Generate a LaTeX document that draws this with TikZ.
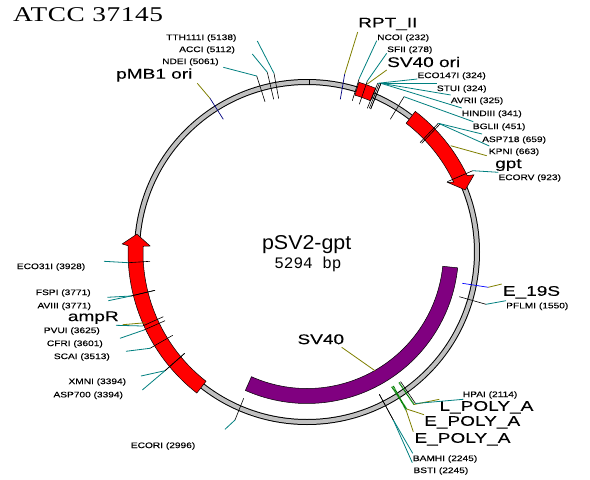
\documentclass[tikz,border=0pt]{standalone}
\usepackage{fontspec}
\setmainfont{Liberation Sans}
\newfontfamily\smf[FakeStretch=1.27,FakeBold=0.15]{Liberation Sans}
\newfontfamily\bgf[FakeStretch=1.36,FakeBold=0.2]{Liberation Sans}
\newfontfamily\ttlf[FakeStretch=1.07]{Liberation Sans}
\newfontfamily\atcc[FakeStretch=1.3,LetterSpace=3]{Liberation Serif}
\newfontfamily\mnf{Liberation Mono}
\definecolor{tealc}{HTML}{008080}
\definecolor{olivec}{HTML}{808000}
\definecolor{navyc}{HTML}{000080}
\definecolor{greenc}{HTML}{008000}
\definecolor{purplec}{HTML}{800080}
\definecolor{ringc}{HTML}{C0C0C0}
\tikzset{
 enz/.style={inner sep=0pt,anchor=west,font=\smf\fontsize{8}{9}\selectfont},
 feat/.style={inner sep=0pt,anchor=west,font=\bgf\fontsize{14}{16}\selectfont},
 tickK/.style={draw=black,line width=0.6pt},
 tickN/.style={draw=navyc,line width=0.7pt},
 tickB/.style={draw=blue,line width=0.7pt},
 tickG/.style={draw=greenc,line width=1.3pt,dash pattern=on 1pt off 0.5pt},
 leadT/.style={draw=tealc,line width=0.8pt},
 leadO/.style={draw=olivec,line width=0.8pt},
 gene/.style={draw=black,line width=0.5pt},
}
% name, label style, label pos, text, tick style, tick a, tick b, leader style, leader end
\newcommand\site[9]{%
 \node[#2] (#1) at (#3) {#4};
 \coordinate (#1-a) at (#6);
 \coordinate (#1-b) at (#7);
 \coordinate (#1-c) at (#9);
 \draw[#5] (#1-a) -- (#1-b);
 \draw[#8] (#1-b) -- (#1-c);
}
\begin{document}
\begin{tikzpicture}[x=1pt,y=-1pt]
\path[use as bounding box,fill=white] (0,0) rectangle (590,480);
\begin{scope}[shift={(307,252)},y=1pt]
 \coordinate (center) at (0,0);
 \draw[black,line width=6pt] (center) circle[radius=170pt];
 \draw[ringc,line width=4pt] (center) circle[radius=170pt];
 % SV40 ori
 \fill[red,gene] (73:177.5pt) arc[start angle=73,end angle=67.2,radius=177.5pt]
   -- (67.2:164pt) arc[start angle=67.2,end angle=73,radius=164pt] -- cycle;
 % gpt
 \fill[red,gene] (52.4:177.5pt) arc[start angle=52.4,end angle=25.5,radius=177.5pt]
   -- (24.8:184pt) -- (21.4:170pt) -- (26.3:157pt) -- (25.5:162.5pt)
   arc[start angle=25.5,end angle=52.4,radius=162.5pt] -- cycle;
 % ampR
 \fill[red,gene] (178:179pt) arc[start angle=178,end angle=232,radius=179pt]
   -- (232:164pt) arc[start angle=232,end angle=178,radius=164pt]
   -- (177.8:157pt) -- (174:171pt) -- (177.5:185pt) -- cycle;
 % SV40
 \fill[purplec,gene] (246:151.5pt) arc[start angle=246,end angle=354,radius=151.5pt]
   -- (354:136.5pt) arc[start angle=354,end angle=246,radius=136.5pt] -- cycle;
\end{scope}
\node[inner sep=0pt,anchor=west,font=\atcc\fontsize{21}{23}\selectfont] (title) at (13,15) {ATCC 37145};
\node[inner sep=0pt,font=\ttlf\fontsize{20}{22}\selectfont] (plasmid) at (306.7,245) {pSV2-gpt};
\node[inner sep=0pt,font=\mnf\fontsize{16}{18}\selectfont] (size) at (308,264) {5294 bp};
\coordinate (topa) at (309,80);
\coordinate (topb) at (309,84.5);
\draw[tickK] (topa) -- (topb);
% upper right
\site{rpt}{feat}{358,24}{RPT\_II}{tickN}{340.3,99.3}{344.7,74}{leadO}{357.7,32}
\site{ncoi}{enz}{377,38}{NCOI (232)}{tickK}{352.3,100.7}{359.3,78.3}{leadT}{376.7,40.7}
\site{sfii}{enz}{387,50}{SFII (278)}{tickK}{359.3,104.3}{367.3,81}{leadT}{386.7,53.3}
\site{svori}{feat}{387,62}{SV40 ori}{tickK}{367.3,84}{367.3,84}{leadO}{386.7,70}
\site{eco}{enz}{417.3,76}{ECO147I (324)}{tickK}{367.3,108.3}{377.7,83.3}{leadT}{417.3,79}
\site{stu}{enz}{436.7,89}{STUI (324)}{tickK}{369.3,108.3}{379.3,83.3}{leadT}{436.7,83.3}
\site{avr}{enz}{450.7,101}{AVRII (325)}{tickK}{370.7,109}{381,83.3}{leadT}{450.7,95}
\site{hind}{enz}{461.7,114}{HINDIII (341)}{tickK}{370.7,109}{381,83.3}{leadT}{461.7,108}
\site{bgl}{enz}{472.7,127}{BGLII (451)}{tickK}{390.3,119.3}{404,96.7}{leadT}{473.3,121.7}
\site{asp}{enz}{482,140}{ASP718 (659)}{tickK}{420,142.7}{438.3,123.3}{leadT}{482,134}
\site{kpn}{enz}{488.7,152}{KPNI (663)}{tickK}{421.7,143.3}{440,124}{leadT}{489.3,146}
\site{gpt}{feat}{495,165}{gpt}{tickK}{450.7,145.7}{450.7,145.7}{leadO}{486.7,155.7}
\site{ecorv}{enz}{498.3,178}{ECORV (923)}{tickK}{447.3,181.7}{472.7,170.7}{leadT}{498.3,172.3}
% right
\site{e19}{feat}{502.7,292.3}{E\_19S}{tickB}{462.3,283.3}{488.3,287.3}{leadO}{501.7,284}
\site{pfl}{enz}{506,306.3}{PFLMI (1550)}{tickK}{459.3,296.7}{486,304.3}{leadT}{506,300.7}
\site{lpoly}{feat}{439.3,407.3}{L\_POLY\_A}{tickG}{399,382.5}{414,404.5}{leadO}{439.3,399.3}
\site{hpa}{enz}{462.7,395}{HPAI (2114)}{tickK}{400.5,381.5}{415.5,403.5}{leadT}{463.3,399.3}
\site{epa}{feat}{424,422.3}{E\_POLY\_A}{tickG}{391.7,386.7}{406.7,409}{leadO}{424,414.7}
\site{epb}{feat}{414.3,439.3}{E\_POLY\_A}{tickG}{393.3,386}{406,410}{leadO}{413.3,431.7}
\site{bam}{enz}{412.7,459}{BAMHI (2245)}{tickK}{379.3,394.3}{393.3,420}{leadT}{412.7,453.3}
\site{bst}{enz}{413.3,471}{BSTI (2245)}{tickK}{379.3,394.3}{393.3,420}{leadT}{412.3,462.7}
% bottom
\site{sv}{feat}{297.3,339.3}{SV40}{tickK}{375,370.7}{375,370.7}{leadO}{341.7,347.3}
\site{ecori}{enz}{130.7,446}{ECORI (2996)}{tickK}{243.7,398.3}{235,420}{leadT}{225,429.3}
% left
\site{xmn}{enz}{68.3,382}{XMNI (3394)}{tickK}{184.7,353.3}{165,370.7}{leadT}{141,376}
\site{aspb}{enz}{53.3,395.3}{ASP700 (3394)}{tickK}{184.7,353.3}{165,370.7}{leadT}{142.3,390}
\site{sca}{enz}{53.7,357}{SCAI (3513)}{tickK}{172.7,335.3}{150,348.3}{leadT}{126,351.3}
\site{cfr}{enz}{46.7,344}{CFRI (3601)}{tickK}{165,320.7}{144,330}{leadT}{120,338.3}
\site{pvu}{enz}{43.7,331}{PVUI (3625)}{tickK}{163.3,316.7}{142.7,326}{leadT}{116,325.3}
\site{amp}{feat}{67.7,317.7}{ampR}{tickK}{145.7,322.7}{145.7,322.7}{leadO}{122.7,324.7}
\site{avi}{enz}{37.3,306.3}{AVIII (3771)}{tickK}{155,290.3}{131,296}{leadT}{108.3,300.7}
\site{fsp}{enz}{35.7,293}{FSPI (3771)}{tickK}{155,290.3}{131,296}{leadT}{107.3,297.3}
\site{eco31}{enz}{16.7,267}{ECO31I (3928)}{tickK}{150,261.3}{128.3,262.7}{leadT}{104,261.3}
% upper left
\site{pmb}{feat}{116,75}{pMB1 ori}{tickN}{223.3,119.3}{210,98.3}{leadO}{197.3,83.3}
\site{nde}{enz}{162,62}{NDEI (5061)}{tickK}{265,101.7}{256.7,76}{leadT}{223.3,67.3}
\site{acc}{enz}{179,50}{ACCI (5112)}{tickK}{273.7,99.3}{267.3,72.3}{leadT}{252.3,54}
\site{tth}{enz}{166,38}{TTH111I (5138)}{tickK}{278.7,98.7}{274,73.3}{leadT}{257.3,41}
\end{tikzpicture}
\end{document}
